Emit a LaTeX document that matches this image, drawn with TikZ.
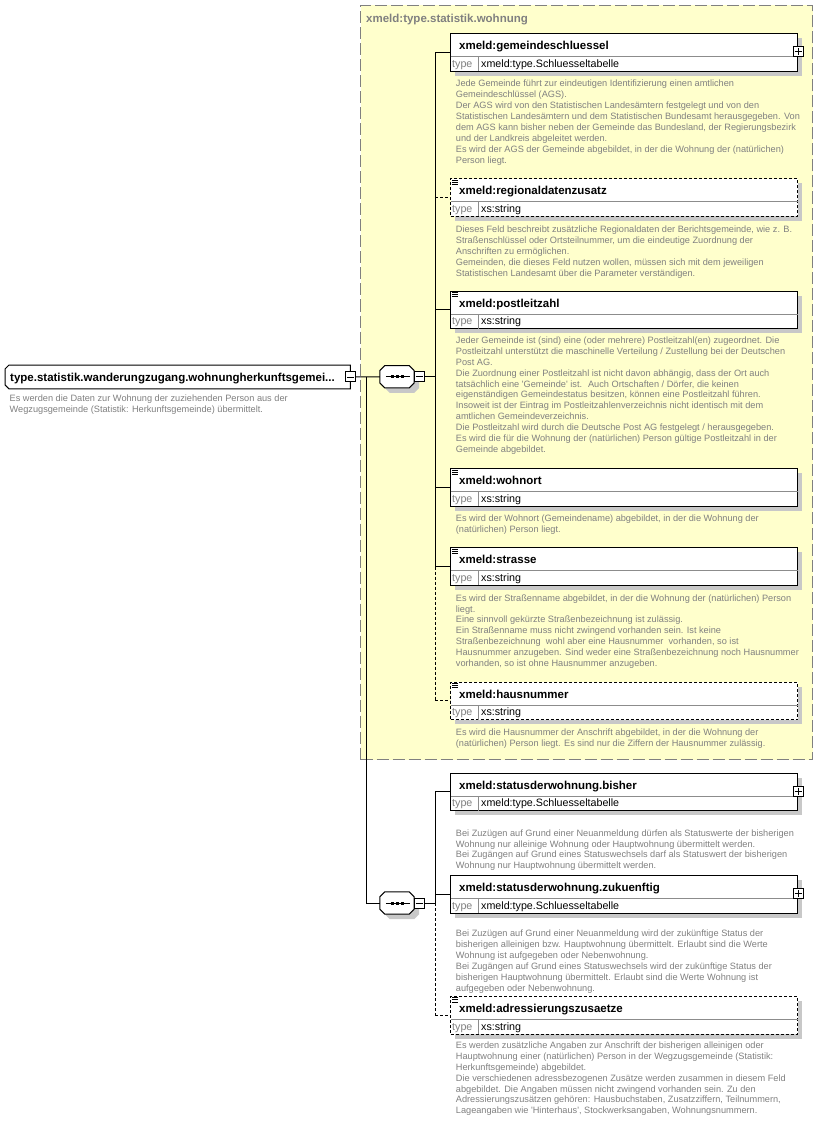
\documentclass[tikz,border=0pt]{standalone}
\usepackage{fontspec}
\setmainfont{Liberation Sans}
\usetikzlibrary{calc}
\definecolor{grpfill}{RGB}{255,255,204}
\definecolor{grpline}{RGB}{128,128,128}
\definecolor{txtgray}{RGB}{128,128,128}
\definecolor{shadegray}{RGB}{200,200,200}
\definecolor{divgray}{RGB}{140,140,140}

\tikzset{
  elem/.style={draw=black, fill=white, rectangle, minimum width=347pt, minimum height=37.5pt, anchor=north west, inner sep=0pt, line width=1pt},
  optbox/.style={dash pattern=on 3pt off 2pt},
  titletext/.style={font=\fontsize{11.5}{13}\selectfont\bfseries, anchor=base west, inner sep=0pt},
  typelbl/.style={font=\fontsize{10.7}{12}\selectfont, text=txtgray, anchor=base west, inner sep=0pt},
  typetxt/.style={font=\fontsize{10.7}{12}\selectfont, text=black, anchor=base west, inner sep=0pt},
  desc/.style={font=\fontsize{9.2}{10.9}\selectfont, text=txtgray, align=left, anchor=north west, inner sep=0pt},
  pm/.style={draw=black, fill=white, rectangle, minimum size=10pt, inner sep=0pt, line width=1pt},
  seqn/.style={rectangle, minimum width=34pt, minimum height=22pt, inner sep=0pt},
  conn/.style={line width=1pt, draw=black},
  optconn/.style={line width=1pt, draw=black, dash pattern=on 3pt off 2pt},
}

% element box: #1 id, #2 top y, #3 title, #4 type, #5 extra style
\newcommand\xelem[5]{%
  \fill[shadegray] (455,#2+5) rectangle ++(347,37.5);
  \node[elem,#5] (#1) at (450,#2) {};
  \draw[divgray, line width=1pt] ($(#1.north west)+(0.5,23.5)$) -- ($(#1.north east)+(-0.5,23.5)$);
  \draw[divgray, line width=1pt] ($(#1.north west)+(28,23.5)$) -- ($(#1.south west)+(28,-0.5)$);
  \node[titletext] (#1-n) at ($(#1.north west)+(9,16.5)$) {#3};
  \node[typelbl] (#1-k) at ($(#1.north west)+(2,34)$) {type};
  \node[typetxt] (#1-v) at ($(#1.north west)+(31,34)$) {#4};
}
\newcommand\xplus[1]{%
  \node[pm] (#1-p) at ($(#1.north east)+(0,18.5)$) {};
  \draw[line width=0.9pt] ($(#1-p.center)+(-3.5,0)$) -- ($(#1-p.center)+(3.5,0)$)
        ($(#1-p.center)+(0,-3.5)$) -- ($(#1-p.center)+(0,3.5)$);
}
\newcommand\xicon[1]{%
  \draw[line width=0.8pt] ($(#1.north west)+(2,1.6)$) -- ++(6,0)
        ($(#1.north west)+(2,3.8)$) -- ++(6,0)
        ($(#1.north west)+(2,6.0)$) -- ++(6,0);
}
\newcommand\xminus[1]{%
  \draw[line width=0.9pt] ($(#1.center)+(-3.5,0)$) -- ($(#1.center)+(3.5,0)$);
}
% octagon around node #1, shifted by (#2,#3), style #4
\newcommand\xoct[4]{%
  \path[#4] ($(#1.north west)+(5+#2,#3)$) -- ($(#1.north east)+(-5+#2,#3)$) -- ($(#1.north east)+(#2,5+#3)$) -- ($(#1.south east)+(#2,-5+#3)$) -- ($(#1.south east)+(-5+#2,#3)$) -- ($(#1.south west)+(5+#2,#3)$) -- ($(#1.south west)+(#2,-5+#3)$) -- ($(#1.north west)+(#2,5+#3)$) -- cycle;
}
% sequence compositor: #1 id, #2 centre
\newcommand\xseq[2]{%
  \node[seqn] (#1) at (#2) {};
  \xoct{#1}{5}{5}{fill=shadegray}
  \xoct{#1}{0}{0}{fill=white, draw=black, line width=1pt}
  \draw[line width=1pt] ($(#1.west)+(6,0)$) -- ($(#1.east)+(-4,0)$);
  \fill ($(#1.center)+(-6.5,-1.5)$) rectangle ++(3,3);
  \fill ($(#1.center)+(-1.5,-1.5)$) rectangle ++(3,3);
  \fill ($(#1.center)+(3.5,-1.5)$) rectangle ++(3,3);
  \node[pm] (#1-m) at ($(#1.east)+(5,0)$) {};
  \xminus{#1-m}
}

\begin{document}
\begin{tikzpicture}[x=1pt,y=-1pt]
\useasboundingbox (0,0) rectangle (831,1123);
\fill[white] (0,0) rectangle (831,1123);

% group box
\node[draw=grpline, fill=grpfill, line width=1pt, dash pattern=on 12pt off 4pt, rectangle,
      minimum width=452pt, minimum height=754pt, anchor=north west, inner sep=0pt] (grp) at (360,5) {};
\node[titletext, text=grpline] (grp-t) at (366,23) {xmeld:type.statistik.wohnung};

% root element
\node[rectangle, minimum width=345pt, minimum height=23.5pt, anchor=north west, inner sep=0pt] (root) at (5,365) {};
\draw[fill=white, line width=1pt] ($(root.north west)+(4,0)$) -- (root.north east) -- (root.south east)
  -- ($(root.south west)+(4,0)$) -- ($(root.south west)+(0,-4)$) -- ($(root.north west)+(0,4)$) -- cycle;
\node[titletext] (root-t) at (10,381) {type.statistik.wanderungzugang.wohnungherkunftsgemei...};
\node[pm] (root-m) at (root.east) {};
\xminus{root-m}
\node[desc] (root-d) at (9.5,393.9) {\strut Es werden die Daten zur Wohnung der zuziehenden Person aus der\\Wegzugsgemeinde (Statistik: Herkunftsgemeinde) übermittelt.};

% sequences
\xseq{s1}{397,376.75}
\xseq{s2}{397,903}

% elements of the group
\xelem{gs}{33.3}{xmeld:gemeindeschluessel}{xmeld:type.Schluesseltabelle}{}
\xplus{gs}
\node[desc] (gs-d) at (455.7,78.9) {\strut Jede Gemeinde führt zur eindeutigen Identifizierung einen amtlichen\\
Gemeindeschlüssel (AGS).\\
Der AGS wird von den Statistischen Landesämtern festgelegt und von den\\
Statistischen Landesämtern und dem Statistischen Bundesamt herausgegeben. Von\\
dem AGS kann bisher neben der Gemeinde das Bundesland, der Regierungsbezirk\\
und der Landkreis abgeleitet werden.\\
Es wird der AGS der Gemeinde abgebildet, in der die Wohnung der (natürlichen)\\
Person liegt.};

\xelem{rd}{178.5}{xmeld:regionaldatenzusatz}{xs:string}{optbox}
\xicon{rd}
\node[desc] (rd-d) at (455.7,224.9) {\strut Dieses Feld beschreibt zusätzliche Regionaldaten der Berichtsgemeinde, wie z. B.\\
Straßenschlüssel oder Ortsteilnummer, um die eindeutige Zuordnung der\\
Anschriften zu ermöglichen.\\
Gemeinden, die dieses Feld nutzen wollen, müssen sich mit dem jeweiligen\\
Statistischen Landesamt über die Parameter verständigen.};

\xelem{plz}{290.7}{xmeld:postleitzahl}{xs:string}{}
\xicon{plz}
\node[desc] (plz-d) at (455.7,335.6) {\strut Jeder Gemeinde ist (sind) eine (oder mehrere) Postleitzahl(en) zugeordnet. Die\\
Postleitzahl unterstützt die maschinelle Verteilung / Zustellung bei der Deutschen\\
Post AG.\\
Die Zuordnung einer Postleitzahl ist nicht davon abhängig, dass der Ort auch\\
tatsächlich eine \textquotesingle Gemeinde\textquotesingle\ ist.~ Auch Ortschaften / Dörfer, die keinen\\
eigenständigen Gemeindestatus besitzen, können eine Postleitzahl führen.\\
Insoweit ist der Eintrag im Postleitzahlenverzeichnis nicht identisch mit dem\\
amtlichen Gemeindeverzeichnis.\\
Die Postleitzahl wird durch die Deutsche Post AG festgelegt / herausgegeben.\\
Es wird die für die Wohnung der (natürlichen) Person gültige Postleitzahl in der\\
Gemeinde abgebildet.};

\xelem{wo}{468.3}{xmeld:wohnort}{xs:string}{}
\xicon{wo}
\node[desc] (wo-d) at (455.7,513.9) {\strut Es wird der Wohnort (Gemeindename) abgebildet, in der die Wohnung der\\
(natürlichen) Person liegt.};

\xelem{st}{547.3}{xmeld:strasse}{xs:string}{}
\xicon{st}
\node[desc] (st-d) at (455.7,593.3) {\strut Es wird der Straßenname abgebildet, in der die Wohnung der (natürlichen) Person\\
liegt.\\
Eine sinnvoll gekürzte Straßenbezeichnung ist zulässig.\\
Ein Straßenname muss nicht zwingend vorhanden sein. Ist keine\\
Straßenbezeichnung~ wohl aber eine Hausnummer~ vorhanden, so ist\\
Hausnummer anzugeben. Sind weder eine Straßenbezeichnung noch Hausnummer\\
vorhanden, so ist ohne Hausnummer anzugeben.};

\xelem{hn}{681.7}{xmeld:hausnummer}{xs:string}{optbox}
\xicon{hn}
\node[desc] (hn-d) at (455.7,727.3) {\strut Es wird die Hausnummer der Anschrift abgebildet, in der die Wohnung der\\
(natürlichen) Person liegt. Es sind nur die Ziffern der Hausnummer zulässig.};

% elements of the second sequence
\xelem{bi}{772.7}{xmeld:statusderwohnung.bisher}{xmeld:type.Schluesseltabelle}{}
\xplus{bi}
\node[desc] (bi-d) at (455.7,828.3) {\strut Bei Zuzügen auf Grund einer Neuanmeldung dürfen als Statuswerte der bisherigen\\
Wohnung nur alleinige Wohnung oder Hauptwohnung übermittelt werden.\\
Bei Zugängen auf Grund eines Statuswechsels darf als Statuswert der bisherigen\\
Wohnung nur Hauptwohnung übermittelt werden.};

\xelem{zu}{875}{xmeld:statusderwohnung.zukuenftig}{xmeld:type.Schluesseltabelle}{}
\xplus{zu}
\node[desc] (zu-d) at (455.7,928.9) {\strut Bei Zuzügen auf Grund einer Neuanmeldung wird der zukünftige Status der\\
bisherigen alleinigen bzw. Hauptwohnung übermittelt. Erlaubt sind die Werte\\
Wohnung ist aufgegeben oder Nebenwohnung.\\
Bei Zugängen auf Grund eines Statuswechsels wird der zukünftige Status der\\
bisherigen Hauptwohnung übermittelt. Erlaubt sind die Werte Wohnung ist\\
aufgegeben oder Nebenwohnung.};

\xelem{ad}{996}{xmeld:adressierungszusaetze}{xs:string}{optbox}
\xicon{ad}
\node[desc] (ad-d) at (455.7,1040.6) {\strut Es werden zusätzliche Angaben zur Anschrift der bisherigen alleinigen oder\\
Hauptwohnung einer (natürlichen) Person in der Wegzugsgemeinde (Statistik:\\
Herkunftsgemeinde) abgebildet.\\
Die verschiedenen adressbezogenen Zusätze werden zusammen in diesem Feld\\
abgebildet. Die Angaben müssen nicht zwingend vorhanden sein. Zu den\\
Adressierungszusätzen gehören: Hausbuchstaben, Zusatzziffern, Teilnummern,\\
Lageangaben wie \textquotesingle Hinterhaus\textquotesingle, Stockwerksangaben, Wohnungsnummern.};

% connectors
\coordinate (j1) at (366,376.75);
\coordinate (b1) at (435,376.75);
\coordinate (b2) at (435,903);
\draw[conn] (root-m.east) -- (s1.west);
\draw[conn] (j1) |- (s2.west);
\draw[conn] (s1-m.east) -- (b1);
\draw[conn] (s2-m.east) -- (b2);
% bus 1
\draw[conn] (gs.west -| b1) -- (st.west -| b1);
\draw[optconn] (st.west -| b1) -- (hn.west -| b1);
\draw[conn] (gs.west -| b1) -- (gs.west);
\draw[optconn] (rd.west -| b1) -- (rd.west);
\draw[conn] (plz.west -| b1) -- (plz.west);
\draw[conn] (wo.west -| b1) -- (wo.west);
\draw[conn] (st.west -| b1) -- (st.west);
\draw[optconn] (hn.west -| b1) -- (hn.west);
% bus 2
\draw[conn] (bi.west -| b2) -- (b2);
\draw[optconn] (b2) -- (ad.west -| b2);
\draw[conn] (bi.west -| b2) -- (bi.west);
\draw[conn] (zu.west -| b2) -- (zu.west);
\draw[optconn] (ad.west -| b2) -- (ad.west);
\end{tikzpicture}
\end{document}
